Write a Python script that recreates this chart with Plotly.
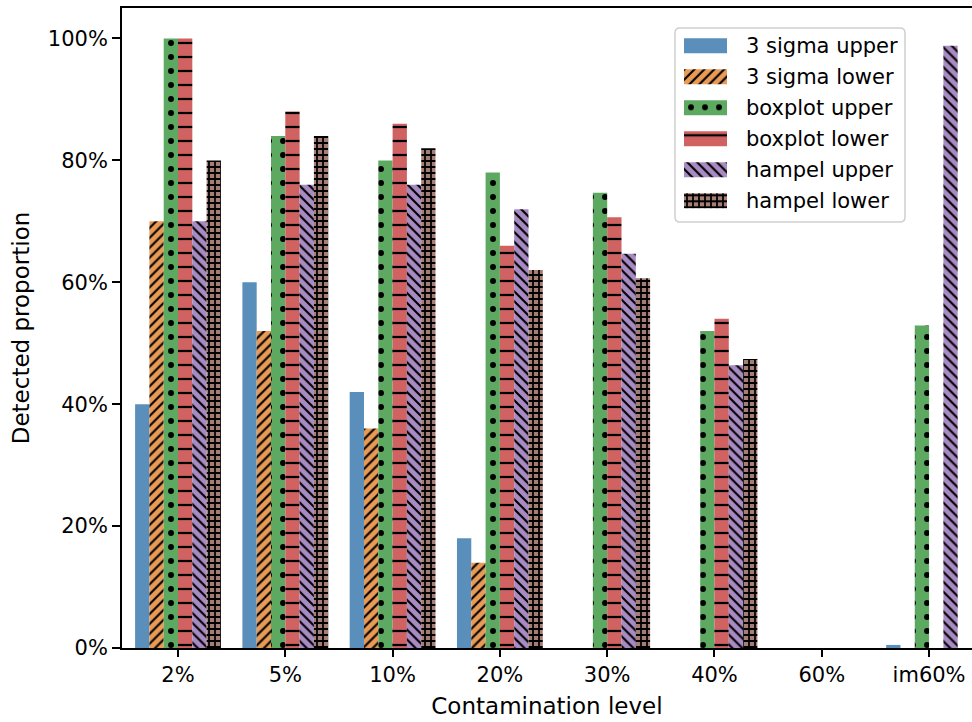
import plotly.graph_objects as go

# Contamination levels on the x axis
levels = ["2%", "5%", "10%", "20%", "30%", "40%", "60%", "im60%"]

# Detected proportion (%) per method and side
sigma_upper = [40, 60, 42, 18, 0, 0, 0, 0.5]
sigma_lower = [70, 52, 36, 14, 0, 0, 0, 0]
boxplot_upper = [100, 84, 80, 78, 74.67, 52, 0, 52.9]
boxplot_lower = [100, 88, 86, 66, 70.67, 54, 0, 0]
hampel_upper = [70, 76, 76, 72, 64.67, 46.4, 0, 98.8]
hampel_lower = [80, 84, 82, 62, 60.67, 47.4, 0, 0]

series_names = ["3 sigma upper", "3 sigma lower", "boxplot upper",
                "boxplot lower", "hampel upper", "hampel lower"]
series_values = [sigma_upper, sigma_lower, boxplot_upper,
                 boxplot_lower, hampel_upper, hampel_lower]

# y axis ticks
y_ticks = [0, 20, 40, 60, 80, 100]
y_tick_labels = ["0%", "20%", "40%", "60%", "80%", "100%"]

# fill colour, hatch shape, hatch tile size, hatch solidity
styles = [
    ("#5a8fbb", "", 14, 0.15),
    ("#e99b56", "/", 7, 0.3),
    ("#5ea962", ".", 14, 0.14),
    ("#d06262", "-", 14, 0.16),
    ("#a98bc4", "\\", 7, 0.3),
    ("#a47d74", "+", 6, 0.5),
]

FONT = "DejaVu Sans"
W, H = 972, 722
ML, MR, MT, MB = 122, 0, 8, 74
PW, PH = W - ML - MR, H - MT - MB


def px_x(px):
    """Horizontal pixel -> paper fraction."""
    return (px - ML) / PW


def px_y(py):
    """Vertical pixel (from top) -> paper fraction."""
    return (H - MB - py) / PH


def pattern_marker(color, shape, size, solid):
    return dict(
        color=color,
        line=dict(width=0),
        pattern=dict(shape=shape, fgcolor="black", bgcolor=color,
                     size=size, solidity=solid, fillmode="replace"),
    )


fig = go.Figure()

# main grouped bars
for name, vals, st in zip(series_names, series_values, styles):
    fig.add_trace(go.Bar(
        x=levels, y=vals, name=name,
        marker=pattern_marker(*st),
        showlegend=False,
    ))

# legend: wide hatched swatches drawn as short horizontal bars on a hidden axis pair
for name, st in zip(series_names, styles):
    fig.add_trace(go.Bar(
        x=[1], y=[name], orientation="h", base=0, width=0.484,
        offsetgroup="legend", xaxis="x2", yaxis="y2",
        marker=pattern_marker(*st),
        showlegend=False, hoverinfo="skip",
    ))

# legend frame with rounded corners
x0, x1 = px_x(675), px_x(905)
y0, y1 = px_y(222), px_y(28)
rx, ry = 5 / PW, 5 / PH
frame = (f"M{x0 + rx},{y1} L{x1 - rx},{y1} Q{x1},{y1} {x1},{y1 - ry} "
         f"L{x1},{y0 + ry} Q{x1},{y0} {x1 - rx},{y0} "
         f"L{x0 + rx},{y0} Q{x0},{y0} {x0},{y0 + ry} "
         f"L{x0},{y1 - ry} Q{x0},{y1} {x0 + rx},{y1} Z")
fig.add_shape(type="path", path=frame, xref="paper", yref="paper",
              line=dict(color="#d0d0d0", width=1.5), fillcolor="white",
              layer="below")

# legend labels
for name in series_names:
    fig.add_annotation(
        x=px_x(744), y=name, xref="paper", yref="y2",
        text=name, showarrow=False, xanchor="left", yanchor="middle",
        font=dict(family=FONT, size=21, color="black"),
    )

fig.update_layout(
    width=W,
    height=H,
    margin=dict(l=ML, r=MR, t=MT, b=MB),
    paper_bgcolor="white",
    plot_bgcolor="white",
    barmode="group",
    bargap=0.2,
    bargroupgap=0,
    font=dict(family=FONT, size=21, color="black"),
    showlegend=False,
    xaxis=dict(
        type="category",
        range=[-0.522, 7.4],
        showline=True, linecolor="black", linewidth=1.8, mirror=True,
        ticks="outside", ticklen=7, tickwidth=1.6, tickcolor="black",
        showgrid=False, zeroline=False,
        tickfont=dict(family=FONT, size=21, color="black"),
        title=dict(text="Contamination level", standoff=12,
                   font=dict(family=FONT, size=23, color="black")),
    ),
    yaxis=dict(
        range=[0, 105],
        tickvals=y_ticks,
        ticktext=y_tick_labels,
        showline=True, linecolor="black", linewidth=1.8,
        ticks="outside", ticklen=8, tickwidth=1.6, tickcolor="black",
        showgrid=False, zeroline=False,
        tickfont=dict(family=FONT, size=21, color="black"),
        title=dict(text="Detected proportion", standoff=12,
                   font=dict(family=FONT, size=23, color="black")),
    ),
    xaxis2=dict(
        domain=[px_x(684), px_x(727)], range=[0, 1], anchor="y2",
        visible=False, fixedrange=True,
    ),
    yaxis2=dict(
        domain=[px_y(216.3), px_y(30.3)], anchor="x2",
        type="category", categoryorder="array",
        categoryarray=series_names[::-1],
        range=[-0.5, len(series_names) - 0.5],
        visible=False, fixedrange=True,
    ),
)

fig.write_html("out.html")
